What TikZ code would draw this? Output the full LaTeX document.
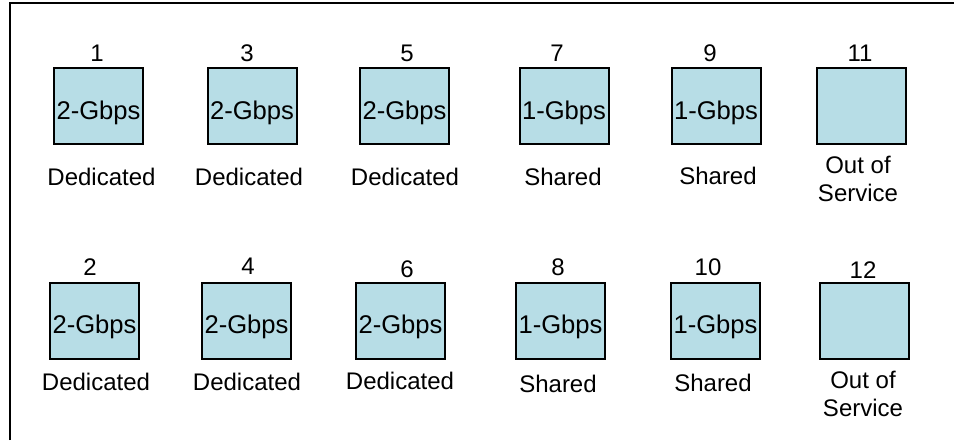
\documentclass[tikz,border=0pt]{standalone}
\usepackage{fontspec}
\setmainfont{Liberation Sans}
\usetikzlibrary{positioning}
\definecolor{portblue}{RGB}{183,221,230}

\begin{document}
\begin{tikzpicture}[x=0.5pt,y=-0.5pt,
    port/.style={draw, line width=1pt, fill=portblue, minimum width=44.5pt,
        minimum height=38pt, inner sep=0pt, text height=13pt, text depth=0pt,
        font=\fontsize{12.8}{15}\selectfont},
    tag/.style={inner sep=0pt, align=center, font=\fontsize{12}{14}\selectfont}]
    \useasboundingbox (0,0) rectangle (954,440);
    \draw[line width=1pt] (10,440) -- (10,3) -- (954,3);
    % upper row of ports
    \node[port] (p1) at (98.5,106) {2-Gbps};
    \node[port] (p3) at (252,106) {2-Gbps};
    \node[port] (p5) at (404.5,106) {2-Gbps};
    \node[port] (p7) at (564,106) {1-Gbps};
    \node[port] (p9) at (716,106) {1-Gbps};
    \node[port] (p11) at (861,106) {};
    % lower row of ports
    \node[port] (p2) at (94.5,320.5) {2-Gbps};
    \node[port] (p4) at (246.5,320.5) {2-Gbps};
    \node[port] (p6) at (400.5,320.5) {2-Gbps};
    \node[port] (p8) at (560.5,320.5) {1-Gbps};
    \node[port] (p10) at (715.5,320.5) {1-Gbps};
    \node[port] (p12) at (864.5,320.5) {};
    % port numbers
    \path[tag] (97,53) node (n1) {1}
        (247,53) node (n3) {3}
        (407,53) node (n5) {5}
        (557,53) node (n7) {7}
        (710,53) node (n9) {9}
        (860,53) node (n11) {11}
        (90,267) node (n2) {2}
        (248,266) node (n4) {4}
        (407,269) node (n6) {6}
        (558,267) node (n8) {8}
        (708,267) node (n10) {10}
        (863,270) node (n12) {12};
    % port modes
    \path[tag] (101.5,177) node (m1) {Dedicated}
        (249,177) node (m3) {Dedicated}
        (405,177) node (m5) {Dedicated}
        (563,177) node (m7) {Shared}
        (718,176) node (m9) {Shared}
        (858,179) node (m11) {Out of\\Service}
        (96,382) node (m2) {Dedicated}
        (247,382) node (m4) {Dedicated}
        (400,381) node (m6) {Dedicated}
        (558,384) node (m8) {Shared}
        (713,383) node (m10) {Shared}
        (863,394) node (m12) {Out of\\Service};
\end{tikzpicture}
\end{document}
